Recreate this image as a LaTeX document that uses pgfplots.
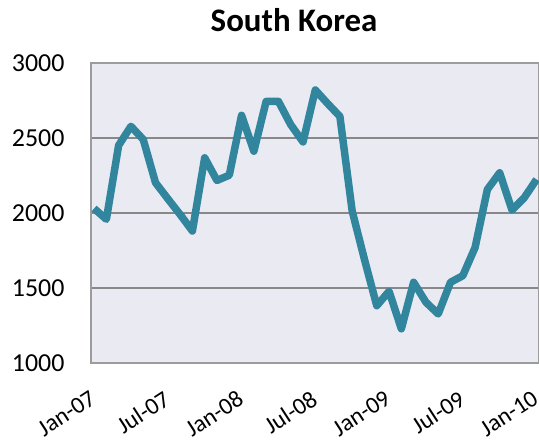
\documentclass[border=0pt]{standalone}
\usepackage{fontspec}
\setmainfont{Carlito}
\usepackage{pgfplots}
\pgfplotsset{compat=1.18}
\definecolor{lineteal}{HTML}{31859C}
\definecolor{plotbg}{HTML}{EAEAF2}
\definecolor{gridgray}{HTML}{888888}
\definecolor{framegray}{HTML}{9C9C9C}

\begin{document}
\begin{tikzpicture}
\begin{axis}[
    scale only axis,
    width=448bp, height=300bp,
    xmin=-0.25, xmax=36.2,
    ymin=1000, ymax=3000,
    ytick={1000,1500,...,3000},
    yticklabels={1000,1500,2000,2500,\raisebox{-9bp}{3000}},
    xtick={0,6,...,36},
    xticklabels={Jan-07,Jul-07,Jan-08,Jul-08,Jan-09,Jul-09,Jan-10},
    major tick length=0pt,
    axis background/.style={fill=plotbg},
    axis line style={framegray, line width=1.2bp},
    ymajorgrids,
    grid style={gridgray, line width=1.3bp},
    tick label style={font=\fontsize{26}{28}\selectfont, black},
    yticklabel style={xshift=-23bp},
    xticklabel style={font=\fontsize{24}{26}\selectfont, xshift=-5bp, yshift=-25bp, rotate=33, anchor=north east, inner sep=1bp},
    title={\textbf{South Korea}},
    title style={font=\fontsize{33}{36}\selectfont, yshift=22bp, xshift=-21bp},
]
\addplot[lineteal, line width=7.5bp, line join=round] coordinates {
(0,2030) (1,1958) (2,2451) (3,2578) (4,2490) (5,2202) (6,2095) (7,1990)
(8,1880) (9,2368) (10,2217) (11,2252) (12,2651) (13,2412) (14,2744)
(15,2744) (16,2589) (17,2474) (18,2820) (19,2730) (20,2644) (21,2013)
(22,1690) (23,1382) (24,1478) (25,1228) (26,1538) (27,1405) (28,1327)
(29,1538) (30,1582) (31,1770) (32,2157) (33,2268) (34,2020) (35,2102)
(36,2224)
};
\coordinate (sw) at (rel axis cs:0,0);
\coordinate (ne) at (rel axis cs:1,1);
\end{axis}
\pgfresetboundingbox
\path[use as bounding box] ([shift={(-91bp,-79bp)}]sw) rectangle ([shift={(0bp,63bp)}]ne);
\end{tikzpicture}
\end{document}
